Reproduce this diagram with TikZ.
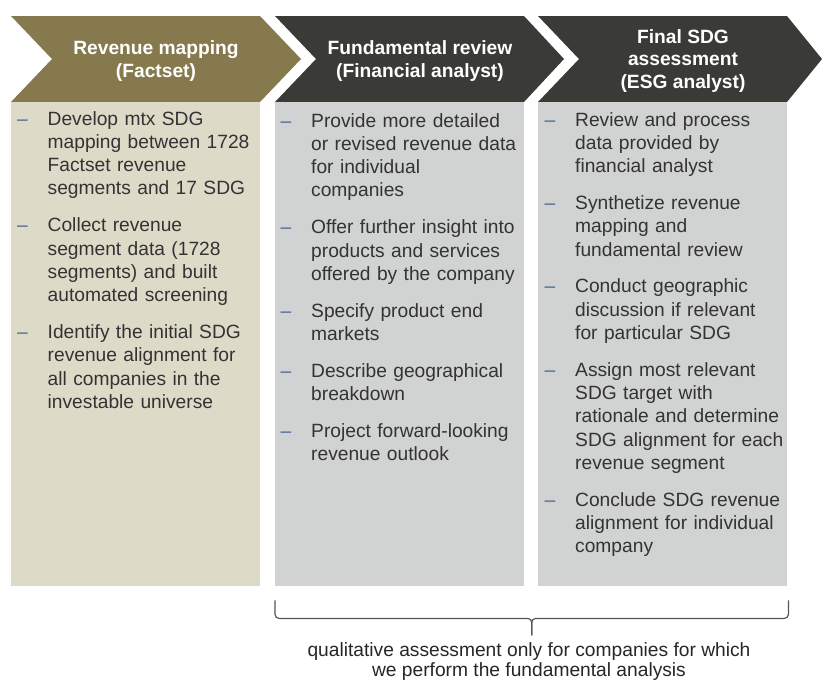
\documentclass[tikz,border=0pt]{standalone}
\usepackage{fontspec}
\setmainfont{Liberation Sans}
\usepackage{enumitem}
\usetikzlibrary{positioning,calc}

\definecolor{olivehead}{HTML}{85794D}
\definecolor{darkhead}{HTML}{3A3B37}
\definecolor{sandbg}{HTML}{DEDAC8}
\definecolor{greybg}{HTML}{D1D2D2}
\definecolor{bodygrey}{HTML}{333333}
\definecolor{dashblue}{HTML}{4A6699}
\definecolor{bracegrey}{HTML}{555555}

% dash bullets for the task lists
\setlist[itemize]{label=\textcolor{dashblue}{--}, leftmargin=30.5pt, labelwidth=30.5pt,
  labelsep=0pt, align=left, itemsep=13.5pt, topsep=0pt, parsep=0pt, partopsep=0pt}

\tikzset{
  panel/.style={anchor=north west, minimum width=249pt, minimum height=484pt, inner sep=0pt},
  headtext/.style={text=white, font=\bfseries\fontsize{19.2}{22.5}\selectfont, align=center},
  listtext/.style={anchor=north west, inner sep=0pt, text width=252pt, text=bodygrey,
    font=\fontsize{19.2}{23.3}\selectfont, align=left},
  notetext/.style={anchor=north, inner sep=0pt, text=black!85,
    font=\fontsize{19.2}{20.8}\selectfont, align=center},
  bracestyle/.style={draw=bracegrey, line width=1.2pt, rounded corners=4pt}
}

\begin{document}
\begin{tikzpicture}[x=1pt,y=-1pt]
  \useasboundingbox (0,0) rectangle (822,681);

  % process chevrons
  \fill[olivehead] (11,16) -- (260,16) -- (301,59) -- (260,102) -- (11,102) -- (52,59) -- cycle;
  \fill[darkhead] (275,16) -- (524,16) -- (564,59) -- (524,102) -- (275,102) -- (316,59) -- cycle;
  \fill[darkhead] (538,16) -- (787,16) -- (822,59) -- (787,102) -- (538,102) -- (579,59) -- cycle;

  \node[headtext] (revhead)  at (156,61) {Revenue mapping\\(Factset)};
  \node[headtext] (fundhead) at (420,61) {Fundamental review\\(Financial analyst)};
  \node[headtext] (esghead)  at (683,61) {Final SDG\\assessment\\(ESG analyst)};

  % task panels
  \node[panel, fill=sandbg] (revpanel)  at (11,102)  {};
  \node[panel, fill=greybg] (fundpanel) at (275,102) {};
  \node[panel, fill=greybg] (esgpanel)  at (538,102) {};

  \node[listtext] (revlist) at (17,101.5) {\begin{itemize}
    \item Develop mtx SDG\\mapping between 1728\\Factset revenue\\segments and 17 SDG
    \item Collect revenue\\segment data (1728\\segments) and built\\automated screening
    \item Identify the initial SDG\\revenue alignment for\\all companies in the\\investable universe
  \end{itemize}};

  \node[listtext] (fundlist) at (280.5,103.5) {\begin{itemize}
    \item Provide more detailed\\or revised revenue data\\for individual\\companies
    \item Offer further insight into\\products and services\\offered by the company
    \item Specify product end\\markets
    \item Describe geographical\\breakdown
    \item Project forward-looking\\revenue outlook
  \end{itemize}};

  \node[listtext] (esglist) at (544.5,102.5) {\begin{itemize}
    \item Review and process\\data provided by\\financial analyst
    \item Synthetize revenue\\mapping and\\fundamental review
    \item Conduct geographic\\discussion if relevant\\for particular SDG
    \item Assign most relevant\\SDG target with\\rationale and determine\\SDG alignment for each\\revenue segment
    \item Conclude SDG revenue\\alignment for individual\\company
  \end{itemize}};

  % brace under the two analyst panels
  \coordinate (braceL) at ($(fundpanel.south west)+(0,14)$);
  \coordinate (braceR) at ($(esgpanel.south east)+(1,14)$);
  \coordinate (bracemid) at ($(braceL)!0.5!(braceR)+(0,18)$);
  \coordinate (bracetip) at ($(bracemid)+(0,17)$);
  \draw[bracestyle] (braceL) |- (bracemid) -- (bracetip);
  \draw[bracestyle] (braceR) |- (bracemid) -- (bracetip);

  \node[notetext] (note) at (529,642) {qualitative assessment only for companies for which\\we perform the fundamental analysis};
\end{tikzpicture}
\end{document}
